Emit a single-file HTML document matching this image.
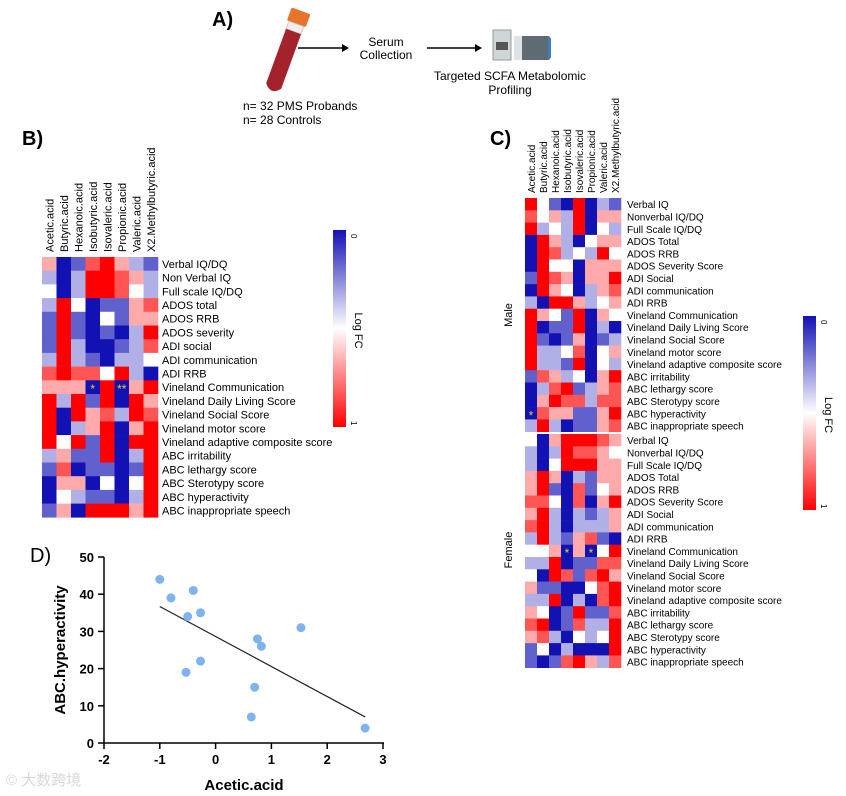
<!DOCTYPE html>
<html><head><meta charset="utf-8"><style>
html,body{margin:0;padding:0;background:#fff;}
svg{display:block;font-family:"Liberation Sans",Arial,sans-serif;}
</style></head><body>
<svg id="fig" width="846" height="796" viewBox="0 0 846 796" xmlns="http://www.w3.org/2000/svg">
<defs>
<linearGradient id="cb" x1="0" y1="0" x2="0" y2="1">
<stop offset="0" stop-color="#1212b4"/><stop offset="0.5" stop-color="#ffffff"/><stop offset="1" stop-color="#ff0000"/>
</linearGradient>
</defs>
<!-- Panel A -->
<g>
<text x="212" y="26" font-size="20" font-weight="bold">A)</text>
<g transform="rotate(20 285 55)">
<rect x="275" y="8" width="20" height="14" rx="2" fill="#e8732a"/>
<rect x="277" y="22" width="16" height="8" fill="#eee" stroke="#ccc"/>
<path d="M277 30 L293 30 L293 88 Q285 98 277 88 Z" fill="#a3222c"/>
</g>
<line x1="298" y1="48" x2="342" y2="48" stroke="#000" stroke-width="1.5"/>
<polygon points="342,44 349,48 342,52" fill="#000"/>
<text x="386" y="46" font-size="12" text-anchor="middle">Serum</text>
<text x="386" y="59" font-size="12" text-anchor="middle">Collection</text>
<line x1="427" y1="48" x2="475" y2="48" stroke="#000" stroke-width="1.5"/>
<polygon points="475,44 482,48 475,52" fill="#000"/>
<g>
<rect x="493" y="30" width="18" height="30" fill="#cfd6da" stroke="#999"/>
<rect x="496" y="42" width="12" height="8" fill="#555"/>
<rect x="514" y="36" width="36" height="24" rx="2" fill="#5e6b73"/>
<rect x="514" y="36" width="8" height="24" fill="#dde3e6"/>
<rect x="548" y="38" width="3" height="20" fill="#3b7fc4"/>
</g>
<text x="510" y="80" font-size="12" text-anchor="middle">Targeted SCFA Metabolomic</text>
<text x="510" y="94" font-size="12" text-anchor="middle">Profiling</text>
<text x="243" y="110" font-size="12">n= 32 PMS Probands</text>
<text x="243" y="124" font-size="12">n=  28 Controls</text>
</g>
<text x="22" y="145" font-size="20" font-weight="bold">B)</text>
<text x="490" y="145" font-size="20" font-weight="bold">C)</text>
<text x="30" y="562" font-size="20">D)</text>
<g id="gB"></g>
<g id="gC"></g>
<g id="gD"></g>
<text x="6" y="785" font-size="15" fill="#d8d8d8" font-family="'Liberation Sans','Noto Sans CJK SC',sans-serif">© 大数跨境</text>
</svg>
<script>
const acids = ["Acetic.acid","Butyric.acid","Hexanoic.acid","Isobutyric.acid","Isovaleric.acid","Propionic.acid","Valeric.acid","X2.Methylbutyric.acid"];
const rowsB = ["Verbal IQ/DQ","Non Verbal IQ","Full scale IQ/DQ","ADOS total","ADOS RRB","ADOS severity","ADI social","ADI communication","ADI RRB","Vineland Communication","Vineland Daily Living Score","Vineland Social Score","Vineland motor score","Vineland adaptive composite score","ABC irritability","ABC lethargy score","ABC Sterotypy score","ABC hyperactivity","ABC inappropriate speech"];
const rowsC = ["Verbal IQ","Nonverbal IQ/DQ","Full Scale IQ/DQ","ADOS Total","ADOS RRB","ADOS Severity Score","ADI Social","ADI communication","ADI RRB","Vineland Communication","Vineland Daily Living Score","Vineland Social Score","Vineland motor score","Vineland adaptive composite score","ABC irritability","ABC lethargy score","ABC Sterotypy score","ABC hyperactivity","ABC inappropriate speech"];
const valsB = [
[-1,3,2,-2,-3,-1,1,2],[1,3,1,-3,-3,-2,-1,1],[0,3,1,-3,-3,-2,0,1],[1,-3,0,3,2,2,-1,-2],[2,-3,2,3,0,2,-1,-1],
[2,-3,2,3,2,3,1,-3],[2,-3,1,3,3,2,1,-2],[1,-3,1,2,3,1,1,0],[-2,-3,-2,-2,0,-3,1,3],[-1,-1,-1,3,-3,3,-1,-3],
[-3,1,-3,2,-3,3,-3,-1],[-3,3,-3,-1,-2,1,-3,-2],[-3,3,1,-1,-3,3,-1,-3],[-3,0,-3,2,-3,3,-3,-3],[1,-1,2,2,-3,3,1,-3],
[2,-2,3,2,2,3,2,-3],[3,-1,-1,3,0,3,0,-3],[3,0,1,2,2,3,1,-3],[2,-1,3,-3,-3,-3,-1,-3]];
const starsB = [[9,3,"*"],[9,5,"**"]];
const valsMale = [
[-3,0,2,3,-3,3,1,2],[-2,0,-1,1,-3,3,-1,-1],[-3,1,0,1,-3,3,0,1],[3,-3,-1,1,3,0,-1,-1],[3,-3,-2,1,0,1,-3,0],
[3,-3,0,0,3,-1,-1,-1],[2,-3,-2,-1,3,-1,-1,-3],[3,-3,-1,0,3,1,-1,-2],[1,3,-3,-3,-1,1,0,-1],[-3,-1,0,2,-3,3,-1,0],
[-3,3,2,2,-3,3,1,3],[-3,2,3,2,-1,3,2,1],[-3,1,1,0,-2,3,0,-1],[-3,1,1,2,-3,3,0,1],[2,-2,-1,1,0,3,-1,-3],
[3,1,-2,-3,2,1,-1,-2],[3,-1,-3,-2,-2,1,-2,-2],[3,-2,-1,-1,2,2,-1,-3],[1,-3,1,3,2,2,-1,-2]];
const starsMale = [[17,0,"*"]];
const valsFemale = [
[0,3,-1,-3,-3,-3,-2,-1],[1,3,1,-3,-2,-2,-1,0],[1,3,0,-3,-3,-3,-1,-1],[-1,-3,-1,3,1,2,-1,-1],[-1,-3,2,3,-2,2,0,-1],
[-2,-2,0,3,-2,3,-1,-3],[-1,-3,1,3,1,2,1,-1],[-2,-3,1,3,1,1,1,-1],[1,-3,1,2,-1,-2,2,3],[0,0,-1,3,-1,3,0,-3],
[1,1,-3,3,2,2,-2,-2],[0,3,-3,-2,2,-2,-3,-1],[-1,2,2,3,3,0,-2,-3],[1,1,-3,3,1,3,-2,-3],[-1,0,3,2,-3,2,2,-2],
[-2,-3,3,2,-2,1,1,-3],[-1,-2,1,3,0,1,0,-3],[2,0,3,1,3,3,3,-3],[2,3,2,-2,-3,-1,1,-2]];
const starsFemale = [[9,3,"*"],[9,5,"*"]];
const xVals = [-1,-0.8,-0.4,-0.5,-0.27,0.75,0.82,1.53,-0.53,-0.27,0.7,0.64,2.68];
const yVals = [44,39,41,34,35,28,26,31,19,22,15,7,4];
const fitX = [-1,2.68];
const fitY = [36.7,7];
const xTicks = [-2,-1,0,1,2,3];
const yTicks = [0,10,20,30,40,50];

const NS="http://www.w3.org/2000/svg";
function mk(tag,attrs,parent){const e=document.createElementNS(NS,tag);for(const k in attrs)e.setAttribute(k,attrs[k]);parent.appendChild(e);return e;}
function col(v){const t=Math.min(Math.abs(v)/3,1);
 if(v>=0){return `rgb(${Math.round(255-t*237)},${Math.round(255-t*237)},${Math.round(255-t*75)})`;}
 return `rgb(255,${Math.round(255-t*255)},${Math.round(255-t*255)})`;}

function heat(g,vals,rows,x0,y0,cw,ch,stars,lblX,fs){
 vals.forEach((r,i)=>r.forEach((v,j)=>{
  const c=mk('rect',{x:x0+j*cw,y:y0+i*ch,width:cw+0.3,height:ch+0.3,fill:col(v)},g);
  
  
 }));
 stars.forEach(s=>{const t=mk('text',{x:x0+(s[1]+0.5)*cw,y:y0+(s[0]+0.5)*ch+6,'font-size':12,fill:'#e8d21a','text-anchor':'middle'},g);t.textContent=s[2];
  
  });
 rows.forEach((r,i)=>{const t=mk('text',{x:lblX,y:y0+(i+0.5)*ch+4,'font-size':fs},g);t.textContent=r;
  
  });
}
function colLabels(g,x0,cw,yb,fs){
 acids.forEach((a,j)=>{const x=x0+(j+0.5)*cw+4;const t=mk('text',{x:x,y:yb,'font-size':fs,transform:`rotate(-90 ${x} ${yb})`},g);t.textContent=a;
  
  });
}
function cbar(g,x,y,h){
 mk('rect',{x:x,y:y,width:13,height:h,fill:'url(#cb)'},g);
 const a=mk('text',{x:x+18,y:y+4,'font-size':8,transform:`rotate(90 ${x+18} ${y+4})`},g);a.textContent='0';
 const b=mk('text',{x:x+18,y:y+h-6,'font-size':8,transform:`rotate(90 ${x+18} ${y+h-6})`},g);b.textContent='1';
 const l=mk('text',{x:x+22,y:y+h/2-16,'font-size':11,transform:`rotate(90 ${x+22} ${y+h/2-16})`},g);l.textContent='Log FC';
 
 
}
const gB=document.getElementById('gB');
heat(gB,valsB,rowsB,42,257,14.5,13.7,starsB,162,11);
colLabels(gB,42,14.5,252,11);
cbar(gB,333,230,197);
const gC=document.getElementById('gC');
heat(gC,valsMale,rowsC,525,198,12,12.3,starsMale,627,10);
heat(gC,valsFemale,rowsC,525,434,12,12.3,starsFemale,627,10);
colLabels(gC,525,12,193,10);
cbar(gC,803,316,194);
const m=mk('text',{x:512,y:315,'font-size':11,transform:'rotate(-90 512 315)','text-anchor':'middle'},gC);m.textContent='Male';
const f=mk('text',{x:512,y:550,'font-size':11,transform:'rotate(-90 512 550)','text-anchor':'middle'},gC);f.textContent='Female';

const gD=document.getElementById('gD');
const sx=v=>104+(v+2)*55.8, sy=v=>743-v*3.72;
mk('line',{x1:104,y1:743,x2:384,y2:743,stroke:'#000','stroke-width':1.5},gD);
mk('line',{x1:104,y1:557,x2:104,y2:743,stroke:'#000','stroke-width':1.5},gD);
xTicks.forEach(t=>{mk('line',{x1:sx(t),y1:743,x2:sx(t),y2:749,stroke:'#000','stroke-width':1.5},gD);
 const e=mk('text',{x:sx(t),y:764,'font-size':13,'font-weight':'bold','text-anchor':'middle'},gD);e.textContent=t;});
yTicks.forEach(t=>{mk('line',{x1:98,y1:sy(t),x2:104,y2:sy(t),stroke:'#000','stroke-width':1.5},gD);
 const e=mk('text',{x:94,y:sy(t)+5,'font-size':13,'font-weight':'bold','text-anchor':'end'},gD);e.textContent=t;});
const xt=mk('text',{x:244,y:790,'font-size':15,'font-weight':'bold','text-anchor':'middle'},gD);xt.textContent='Acetic.acid';


const yt=mk('text',{x:65,y:650,'font-size':15,'font-weight':'bold','text-anchor':'middle',transform:'rotate(-90 65 650)'},gD);yt.textContent='ABC.hyperactivity';


const fl=mk('line',{x1:sx(fitX[0]),y1:sy(fitY[0]),x2:sx(fitX[1]),y2:sy(fitY[1]),stroke:'#222','stroke-width':1.2},gD);


xVals.forEach((x,i)=>{const c=mk('circle',{cx:sx(x),cy:sy(yVals[i]),r:4.5,fill:'#7eb3ef'},gD);
 
 });
</script>
</body></html>
